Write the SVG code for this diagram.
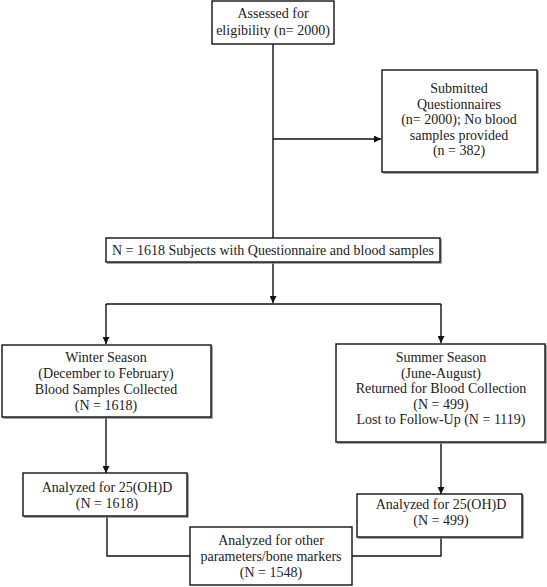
<svg xmlns="http://www.w3.org/2000/svg" width="547" height="587" viewBox="0 0 547 587">
<defs>
<style>
.box{fill:#fff;stroke:#111;stroke-width:1.4}
.sh{fill:none;stroke:#888;stroke-width:1.5}
.t{font-family:"Liberation Serif","Times New Roman",serif;font-size:14px;fill:#222;text-anchor:middle}
.ln{fill:none;stroke:#111;stroke-width:1.4}
</style>
<marker id="ah" viewBox="0 0 10 10" refX="10" refY="5" markerWidth="7" markerHeight="7" markerUnits="userSpaceOnUse" orient="auto">
<path d="M0,0 L10,5 L0,10 z" fill="#111"/>
</marker>
</defs>
<rect width="547" height="587" fill="#fff"/>
<g id="connectors">
<line class="ln" x1="273" y1="44" x2="273" y2="238"/>
<line class="ln" x1="273" y1="139" x2="381" y2="139" marker-end="url(#ah)"/>
<line class="ln" x1="273" y1="262" x2="273" y2="303" marker-end="url(#ah)"/>
<polyline class="ln" points="106,304 441,304"/>
<line class="ln" x1="106" y1="304" x2="106" y2="344" marker-end="url(#ah)"/>
<line class="ln" x1="441" y1="304" x2="441" y2="343" marker-end="url(#ah)"/>
<line class="ln" x1="106" y1="417" x2="106" y2="473" marker-end="url(#ah)"/>
<line class="ln" x1="441" y1="442" x2="441" y2="494" marker-end="url(#ah)"/>
<polyline class="ln" points="107,516 107,556 190,556"/>
<polyline class="ln" points="441,537 441,556 352,556"/>
</g>
<g id="n1">
<rect class="box" x="212" y="1" width="122" height="43"/>
<text class="t" x="273" y="18">Assessed for</text>
<text class="t" x="273" y="35">eligibility (n= 2000)</text>
</g>
<g id="n2">
<polyline class="sh" points="538,71 538,173 383,173"/>
<rect class="box" x="382" y="70" width="155" height="102"/>
<text class="t" x="459" y="93">Submitted</text>
<text class="t" x="459" y="108.5">Questionnaires</text>
<text class="t" x="459" y="124">(n= 2000); No blood</text>
<text class="t" x="459" y="139.5">samples provided</text>
<text class="t" x="459" y="155">(n = 382)</text>
</g>
<g id="n3">
<polyline class="sh" points="441,239 441,263 107,263"/>
<rect class="box" x="106" y="238" width="334" height="24"/>
<text class="t" x="273" y="255">N = 1618 Subjects with Questionnaire and blood samples</text>
</g>
<g id="n4">
<polyline class="sh" points="212,346 212,418 3,418"/>
<rect class="box" x="2" y="345" width="209" height="72"/>
<text class="t" x="106" y="362">Winter Season</text>
<text class="t" x="106" y="378">(December to February)</text>
<text class="t" x="106" y="394">Blood Samples Collected</text>
<text class="t" x="106" y="410">(N = 1618)</text>
</g>
<g id="n5">
<polyline class="sh" points="546,345 546,443 337,443"/>
<rect class="box" x="336" y="344" width="209" height="98"/>
<text class="t" x="441" y="362">Summer Season</text>
<text class="t" x="441" y="377.5">(June-August)</text>
<text class="t" x="441" y="393">Returned for Blood Collection</text>
<text class="t" x="441" y="408.5">(N = 499)</text>
<text class="t" x="441" y="424">Lost to Follow-Up (N = 1119)</text>
</g>
<g id="n6">
<polyline class="sh" points="188,474 188,517 24,517"/>
<rect class="box" x="23" y="473" width="164" height="43"/>
<text class="t" x="107" y="492">Analyzed for 25(OH)D</text>
<text class="t" x="107" y="508">(N = 1618)</text>
</g>
<g id="n7">
<polyline class="sh" points="523,495 523,538 358,538"/>
<rect class="box" x="357" y="494" width="165" height="43"/>
<text class="t" x="441" y="509">Analyzed for 25(OH)D</text>
<text class="t" x="441" y="525">(N = 499)</text>
</g>
<g id="n8">
<rect class="box" x="190" y="527" width="162" height="58"/>
<text class="t" x="271" y="545">Analyzed for other</text>
<text class="t" x="271" y="561">parameters/bone markers</text>
<text class="t" x="271" y="577">(N = 1548)</text>
</g>
</svg>
